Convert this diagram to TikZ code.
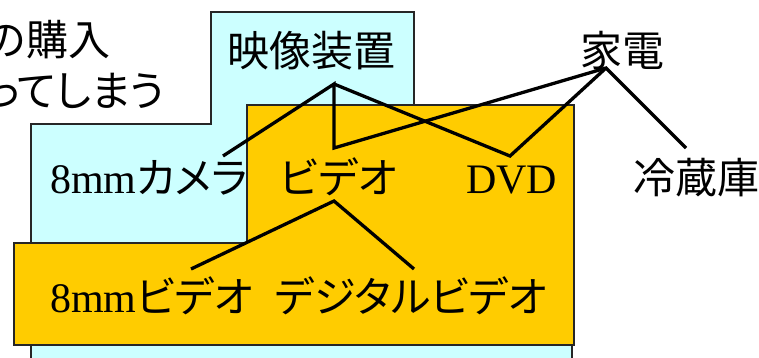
\documentclass[tikz,border=0pt]{standalone}
\usepackage{fontspec}
\setmainfont{Liberation Serif}
\newfontfamily\jp[RawFeature={+palt}]{Noto Sans CJK JP}
\definecolor{cyanfill}{HTML}{CCFFFF}
\definecolor{orangefill}{HTML}{FFCC00}
\begin{document}
\begin{tikzpicture}[x=1pt,y=-1pt,
  region/.style={draw=black!85, line width=1.3pt, line join=miter},
  lbl/.style={inner sep=0pt, outer sep=0pt, anchor=base west, font=\fontsize{42}{48}\selectfont},
  lblr/.style={lbl, anchor=base east},
  link/.style={draw=black, line width=3.3pt, line join=miter}]
\useasboundingbox (0,0) rectangle (759,357);
\clip (0,0) rectangle (759,357);
% background regions
\path[region, fill=cyanfill] (31,124) -- (211,124) -- (211,12) -- (414,12) -- (414,200) -- (572,200) -- (572,380) -- (31,380) -- cycle;
\path[region, fill=orangefill] (247,105) -- (574,105) -- (574,345) -- (14,345) -- (14,243) -- (247,243) -- cycle;
% texts
\node[lblr] (t1) at (110,55) {\jp の購入};
\node[lblr] (t2) at (165,106) {\jp ってしまう};
\node[lbl] (eizo) at (227,66) {\jp 映像装置};
\node[lbl] (kaden) at (580,66) {\jp 家電};
\node[lbl] (camera) at (50,193) {8mm{\jp カメラ}};
\node[lbl] (video) at (280,193) {\jp ビデオ};
\node[lbl] (dvd) at (466,193) {DVD};
\node[lbl] (rei) at (633,193) {\jp 冷蔵庫};
\node[lbl] (v8) at (50,312) {8mm{\jp ビデオ}};
\node[lbl] (dig) at (275,312) {\jp デジタルビデオ};
% connector end points
\coordinate (eizoB) at (334,84);
\coordinate (kadenB) at (606,68);
\coordinate (camT) at (223,156);
\coordinate (vidT) at (334,148);
\coordinate (dvdT) at (510,156);
\coordinate (reiT) at (686,148);
\coordinate (vidB) at (334,201);
\coordinate (v8T) at (191,269);
\coordinate (digT) at (414,269);
% connectors
\draw[link] (camT) -- (eizoB) -- (vidT) -- (kadenB) -- (reiT);
\draw[link] (eizoB) -- (dvdT) -- (kadenB);
\draw[link] (v8T) -- (vidB) -- (digT);
\end{tikzpicture}
\end{document}
